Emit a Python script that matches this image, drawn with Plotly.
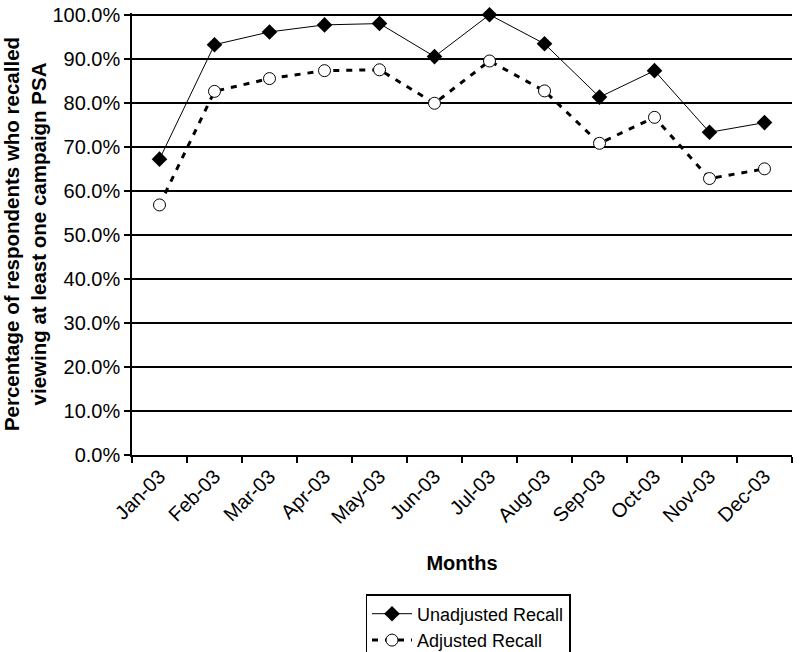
import plotly.graph_objects as go

months = ["Jan-03", "Feb-03", "Mar-03", "Apr-03", "May-03", "Jun-03",
          "Jul-03", "Aug-03", "Sep-03", "Oct-03", "Nov-03", "Dec-03"]
unadjusted = [0.672, 0.932, 0.961, 0.977, 0.980, 0.905,
              1.000, 0.934, 0.813, 0.873, 0.733, 0.755]
adjusted = [0.568, 0.826, 0.855, 0.873, 0.875, 0.799,
            0.895, 0.827, 0.708, 0.767, 0.628, 0.650]
y_ticks = [i / 10 for i in range(11)]

FONT = "Liberation Sans, Arial, sans-serif"
W, H = 800, 652

fig = go.Figure()
fig.add_trace(go.Scatter(
    x=months, y=unadjusted, name="Unadjusted Recall", mode="lines+markers",
    line=dict(color="black", width=1),
    marker=dict(symbol="diamond", size=12, color="black"),
    cliponaxis=False,
))
fig.add_trace(go.Scatter(
    x=months, y=adjusted, name="Adjusted Recall", mode="lines+markers",
    line=dict(color="black", width=3, dash="6px,7px"),
    marker=dict(symbol="circle", size=12, color="white",
                line=dict(color="black", width=1)),
    cliponaxis=False,
))

fig.update_layout(
    width=W, height=H,
    paper_bgcolor="white", plot_bgcolor="white",
    margin=dict(l=132, r=8, t=13, b=197, autoexpand=False),
    font=dict(family=FONT, size=20, color="black"),
    showlegend=True,
    legend=dict(
        xref="container", yref="container",
        x=468 / W, xanchor="center", y=1 - 594 / H, yanchor="top",
        bordercolor="black", borderwidth=1.5,
        font=dict(family=FONT, size=18, color="black"),
        tracegroupgap=0, itemwidth=40,
        bgcolor="white",
    ),
)
fig.update_xaxes(
    type="category", tickangle=-45, automargin=False, dtick=1,
    tickson="boundaries", ticks="outside", ticklen=6, tickwidth=1.5, tickcolor="black",
    showline=True, linecolor="black", linewidth=1.5,
    showgrid=False, range=[-0.5, 11.5],
    tickfont=dict(family=FONT, size=20),
    title=dict(text="<b>Months</b>", font=dict(family=FONT, size=20), standoff=29),
)
fig.update_yaxes(
    range=[0, 1.004], tickvals=y_ticks, tickformat=".1%", automargin=False,
    ticklabeloverflow="allow",
    ticks="outside", ticklen=6, tickwidth=1.5, tickcolor="black",
    showline=True, linecolor="black", linewidth=1.5,
    showgrid=True, gridcolor="black", gridwidth=1.5,
    zeroline=False,
    tickfont=dict(family=FONT, size=20),
    title=dict(text="<b>Percentage of respondents who recalled<br>viewing at least one campaign PSA</b>",
               font=dict(family=FONT, size=20.5), standoff=8),
)

fig.write_html("out.html", config={"displayModeBar": False},
               post_script="document.body.style.margin='0px';")
